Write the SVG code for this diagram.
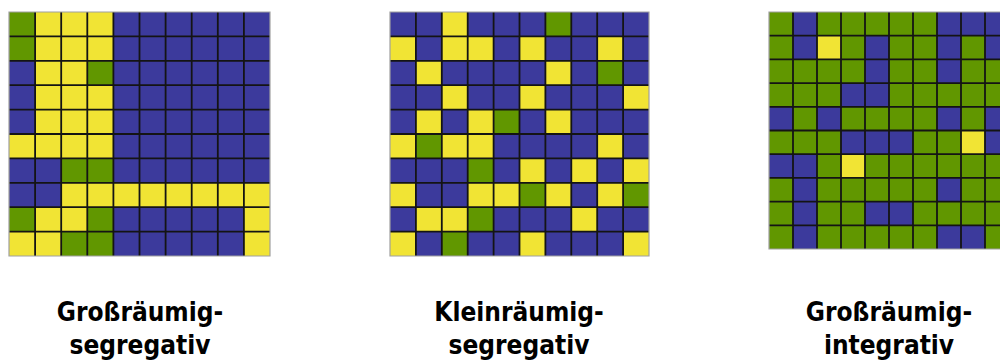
<svg xmlns="http://www.w3.org/2000/svg" width="1000" height="361" viewBox="0 0 1000 361">
<style>
.b{fill:#3c3a9c}
.y{fill:#f1e434}
.g{fill:#619700}
.ln{fill:none;stroke:#141414;stroke-width:1.8;vector-effect:non-scaling-stroke}
.bd{fill:none;stroke:#a0a0a0;stroke-width:1.2;vector-effect:non-scaling-stroke}
.lbl{font-family:"DejaVu Sans Condensed","DejaVu Sans",sans-serif;font-weight:bold;font-size:26px;fill:#000;text-anchor:middle}
</style>
<defs>
<path id="grid" class="ln" d="M1 0V10M2 0V10M3 0V10M4 0V10M5 0V10M6 0V10M7 0V10M8 0V10M9 0V10M0 1H10M0 2H10M0 3H10M0 4H10M0 5H10M0 6H10M0 7H10M0 8H10M0 9H10"/>
<rect id="frame" class="bd" x="0" y="0" width="10" height="10"/>
</defs>
<g id="grid1" transform="translate(9,12) scale(26.1,24.4)">
<rect class="b" x="0" y="0" width="10" height="10"/>
<rect class="y" x="1" y="0" width="3" height="5"/>
<rect class="y" x="0" y="5" width="4" height="1"/>
<rect class="g" x="0" y="0" width="1" height="2"/>
<rect class="g" x="3" y="2" width="1" height="1"/>
<rect class="g" x="2" y="6" width="2" height="1"/>
<rect class="y" x="2" y="7" width="8" height="1"/>
<rect class="g" x="0" y="8" width="1" height="1"/>
<rect class="y" x="1" y="8" width="2" height="1"/>
<rect class="g" x="3" y="8" width="1" height="1"/>
<rect class="y" x="9" y="8" width="1" height="2"/>
<rect class="y" x="0" y="9" width="2" height="1"/>
<rect class="g" x="2" y="9" width="2" height="1"/>
<use href="#grid"/>
<use href="#frame"/>
</g>
<g id="grid2" transform="translate(390,12) scale(25.9,24.4)">
<rect class="b" x="0" y="0" width="10" height="10"/>
<rect class="y" x="2" y="0" width="1" height="1"/>
<rect class="g" x="6" y="0" width="1" height="1"/>
<rect class="y" x="0" y="1" width="1" height="1"/>
<rect class="y" x="2" y="1" width="2" height="1"/>
<rect class="y" x="5" y="1" width="1" height="1"/>
<rect class="y" x="8" y="1" width="1" height="1"/>
<rect class="y" x="1" y="2" width="1" height="1"/>
<rect class="y" x="6" y="2" width="1" height="1"/>
<rect class="g" x="8" y="2" width="1" height="1"/>
<rect class="y" x="2" y="3" width="1" height="1"/>
<rect class="y" x="5" y="3" width="1" height="1"/>
<rect class="y" x="9" y="3" width="1" height="1"/>
<rect class="y" x="1" y="4" width="1" height="1"/>
<rect class="y" x="3" y="4" width="1" height="1"/>
<rect class="g" x="4" y="4" width="1" height="1"/>
<rect class="y" x="6" y="4" width="1" height="1"/>
<rect class="y" x="0" y="5" width="1" height="1"/>
<rect class="g" x="1" y="5" width="1" height="1"/>
<rect class="y" x="2" y="5" width="2" height="1"/>
<rect class="y" x="8" y="5" width="1" height="1"/>
<rect class="g" x="3" y="6" width="1" height="1"/>
<rect class="y" x="5" y="6" width="1" height="1"/>
<rect class="y" x="7" y="6" width="1" height="1"/>
<rect class="y" x="9" y="6" width="1" height="1"/>
<rect class="y" x="0" y="7" width="1" height="1"/>
<rect class="y" x="3" y="7" width="2" height="1"/>
<rect class="g" x="5" y="7" width="1" height="1"/>
<rect class="y" x="6" y="7" width="1" height="1"/>
<rect class="y" x="8" y="7" width="1" height="1"/>
<rect class="g" x="9" y="7" width="1" height="1"/>
<rect class="y" x="1" y="8" width="2" height="1"/>
<rect class="g" x="3" y="8" width="1" height="1"/>
<rect class="y" x="7" y="8" width="1" height="1"/>
<rect class="y" x="0" y="9" width="1" height="1"/>
<rect class="g" x="2" y="9" width="1" height="1"/>
<rect class="y" x="5" y="9" width="1" height="1"/>
<rect class="y" x="9" y="9" width="1" height="1"/>
<use href="#grid"/>
<use href="#frame"/>
</g>
<g id="grid3" transform="translate(769,12) scale(24,23.7)">
<rect class="g" x="0" y="0" width="10" height="10"/>
<rect class="b" x="1" y="0" width="1" height="2"/>
<rect class="b" x="7" y="0" width="3" height="1"/>
<rect class="y" x="2" y="1" width="1" height="1"/>
<rect class="b" x="4" y="1" width="1" height="2"/>
<rect class="b" x="7" y="1" width="1" height="2"/>
<rect class="b" x="9" y="1" width="1" height="1"/>
<rect class="b" x="3" y="3" width="2" height="1"/>
<rect class="b" x="0" y="4" width="1" height="1"/>
<rect class="b" x="2" y="4" width="1" height="1"/>
<rect class="b" x="7" y="4" width="1" height="1"/>
<rect class="b" x="9" y="4" width="1" height="2"/>
<rect class="b" x="3" y="5" width="3" height="1"/>
<rect class="y" x="8" y="5" width="1" height="1"/>
<rect class="b" x="0" y="6" width="2" height="1"/>
<rect class="y" x="3" y="6" width="1" height="1"/>
<rect class="b" x="1" y="7" width="1" height="3"/>
<rect class="b" x="7" y="7" width="1" height="1"/>
<rect class="b" x="4" y="8" width="2" height="1"/>
<rect class="b" x="7" y="9" width="2" height="1"/>
<use href="#grid"/>
<use href="#frame"/>
</g>
<g id="label1"><text class="lbl" x="140" y="321">Großräumig-</text><text class="lbl" x="140" y="354">segregativ</text></g>
<g id="label2"><text class="lbl" x="519" y="321">Kleinräumig-</text><text class="lbl" x="519" y="354">segregativ</text></g>
<g id="label3"><text class="lbl" x="889" y="321">Großräumig-</text><text class="lbl" x="889" y="354">integrativ</text></g>
</svg>
